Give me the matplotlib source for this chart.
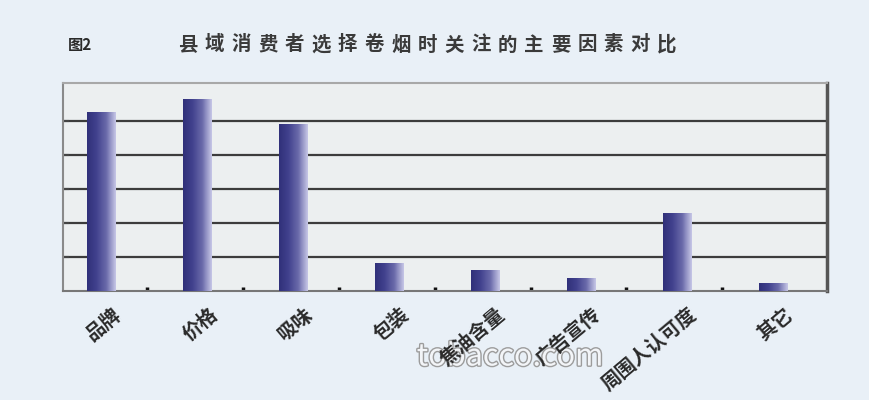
import numpy as np
import matplotlib.pyplot as plt
import matplotlib.patheffects as pe
from matplotlib.colors import LinearSegmentedColormap

plt.rcParams['font.family'] = ['Noto Sans CJK SC', 'DejaVu Sans']

# data (no axis labels, scale in grid steps of 10)
categories = ['品牌', '价格', '吸味', '包装', '焦油含量', '广告宣传', '周围人认可度', '其它']
values = [52.4, 56.4, 48.9, 8.2, 6.1, 3.7, 22.9, 2.2]
grid_levels = [10, 20, 30, 40, 50]
fig_label = '图2'
title = '县域消费者选择卷烟时关注的主要因素对比'
watermark = 'tobacco.com'

fig = plt.figure(figsize=(8.69, 4.0), dpi=100)
fig.patch.set_facecolor('#e9f0f7')
ax = fig.add_axes([0.0725, 0.2725, 0.879, 0.52])
ax.set_facecolor('#eceff0')

x = np.arange(len(categories))
bar_w = 0.3
bar_cmap = LinearSegmentedColormap.from_list(
    'bar', ['#30307a', '#42428e', '#6a6aaa', '#c6c6e6'])
grad = np.linspace(0, 1, 64).reshape(1, -1)

bars = ax.bar(x, values, width=bar_w, color='none', zorder=3)
for b in bars:
    x0 = b.get_x()
    im = ax.imshow(grad, cmap=bar_cmap, aspect='auto', interpolation='bilinear',
                   extent=(x0, x0 + b.get_width(), 0, b.get_height()), zorder=3)
    im.set_clip_path(b)

ax.set_xlim(-0.405, 7.56)
ax.set_ylim(0, 61)

# grid
ax.set_yticks(grid_levels)
ax.yaxis.grid(True, color='#3c3c3c', linewidth=1.6)
ax.set_axisbelow(True)
ax.tick_params(axis='y', direction='in', length=4, width=1.5, color='#444444',
               labelleft=False)

# x ticks: small marks between categories, labels drawn by hand
ax.set_xticks(x)
ax.set_xticklabels([])
ax.tick_params(axis='x', which='major', length=0)
ax.set_xticks(x[:-1] + 0.47, minor=True)
ax.tick_params(axis='x', which='minor', direction='in', length=3, width=2.5,
               color='#111111')

for xi, lab in zip(x, categories):
    ax.text(xi + 0.115, -0.067, lab, transform=ax.get_xaxis_transform(),
            rotation=40, rotation_mode='anchor', ha='right', va='top',
            fontsize=14, fontweight='bold', color='#2a2a2a')

ax.spines['left'].set_color('#8a8a8a')
ax.spines['left'].set_linewidth(1.5)
ax.spines['bottom'].set_color('#777777')
ax.spines['bottom'].set_linewidth(1.5)
ax.spines['top'].set_color('#a8a8a8')
ax.spines['top'].set_linewidth(1.5)
ax.spines['right'].set_color('#555555')
ax.spines['right'].set_linewidth(2.5)

# title, characters spread out like the stretched original
fig.text(80 / 869, 1 - 45 / 400, fig_label, ha='center', va='center',
         fontsize=11, fontweight='bold', color='#2a2a2a')
for i, ch in enumerate(title):
    fig.text((188 + i * 26.6) / 869, 1 - 45 / 400, ch, ha='center', va='center',
             fontsize=14, fontweight='bold', color='#3a3a3a')

fig.text(510 / 869, 1 - 357 / 400, watermark, ha='center', va='center',
         fontsize=22, color='#f3f5f8', zorder=-1,
         path_effects=[pe.withStroke(linewidth=2, foreground='#9c9c9c')])

fig.savefig('out.png', dpi=100, facecolor=fig.get_facecolor())
